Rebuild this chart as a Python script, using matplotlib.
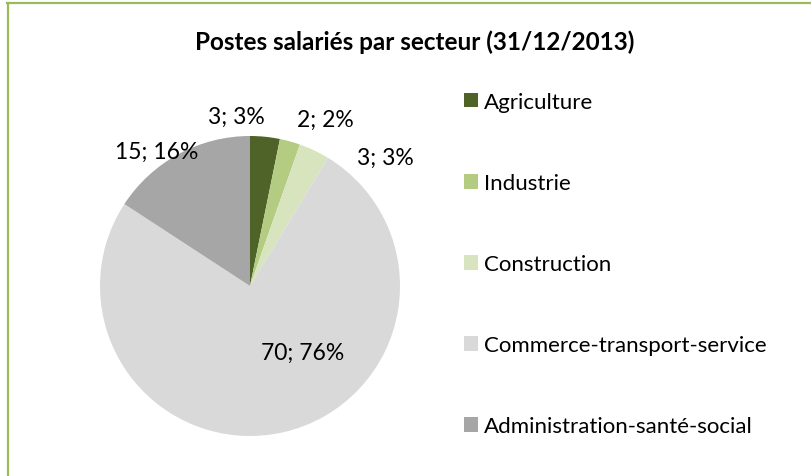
"""
Postes salariés par secteur (31/12/2013) - camembert façon Excel.
"""
import matplotlib
matplotlib.use("Agg")
import matplotlib.pyplot as plt
from matplotlib.patches import Patch
from matplotlib.lines import Line2D

plt.rcParams["font.family"] = ["Lato", "DejaVu Sans"]

SECTEURS = ["Agriculture", "Industrie", "Construction",
            "Commerce-transport-service", "Administration-santé-social"]
POSTES   = [3, 2, 3, 70, 15]          # valeurs affichées
PARTS    = [3.2, 2.2, 3.3, 75.5, 15.8]  # parts (%)
POURCENT = [3, 2, 3, 76, 16]

COLORS = ["#4F6228", "#B3CC82", "#D7E4BD", "#D9D9D9", "#A6A6A6"]
BORDER = "#9BBB59"

# label placement (data units, pie radius = 1)
LABEL_POS = [(-0.09, 1.13), (0.50, 1.11), (0.90, 0.86), (0.35, -0.44), (-0.62, 0.90)]

W, H = 812, 477
fig = plt.figure(figsize=(W / 100, H / 100), dpi=100)
fig.patch.set_facecolor("white")

# pie centre at (250, 287) px, radius 150 px
R = 150
cx, cy = 250, H - 287
half = 1.2 * R
ax = fig.add_axes([(cx - half) / W, (cy - half) / H, 2 * half / W, 2 * half / H])
ax.pie(PARTS, colors=COLORS, startangle=90, counterclock=False, radius=1,
       wedgeprops=dict(linewidth=0))
ax.set_xlim(-1.2, 1.2)
ax.set_ylim(-1.2, 1.2)
ax.set_aspect("equal")
ax.axis("off")

for (x, y), v, p in zip(LABEL_POS, POSTES, POURCENT):
    ax.text(x, y, f"{v}; {p}%", ha="center", va="center", fontsize=16.5,
            color="#000000", clip_on=False)

fig.text(415 / W, 1 - 42 / H, "Postes salariés par secteur (31/12/2013)",
         ha="center", va="center", fontsize=17.5, fontweight="bold")

handles = [Patch(facecolor=c, edgecolor="none") for c in COLORS]
fig.legend(handles, SECTEURS, loc="upper left",
           bbox_to_anchor=(464 / W, 1 - 93 / H), frameon=False,
           fontsize=16, handlelength=0.63, handleheight=0.63, borderpad=0,
           handletextpad=0.27, labelspacing=2.75, borderaxespad=0)

# green frame (top and left only, as cropped)
fig.add_artist(Line2D([7 / W, 1], [1 - 4 / H, 1 - 4 / H], color=BORDER, lw=1.6,
                      transform=fig.transFigure))
fig.add_artist(Line2D([8 / W, 8 / W], [0, 1 - 4 / H], color=BORDER, lw=1.6,
                      transform=fig.transFigure))

fig.savefig("out.png", dpi=100, facecolor=fig.get_facecolor())
